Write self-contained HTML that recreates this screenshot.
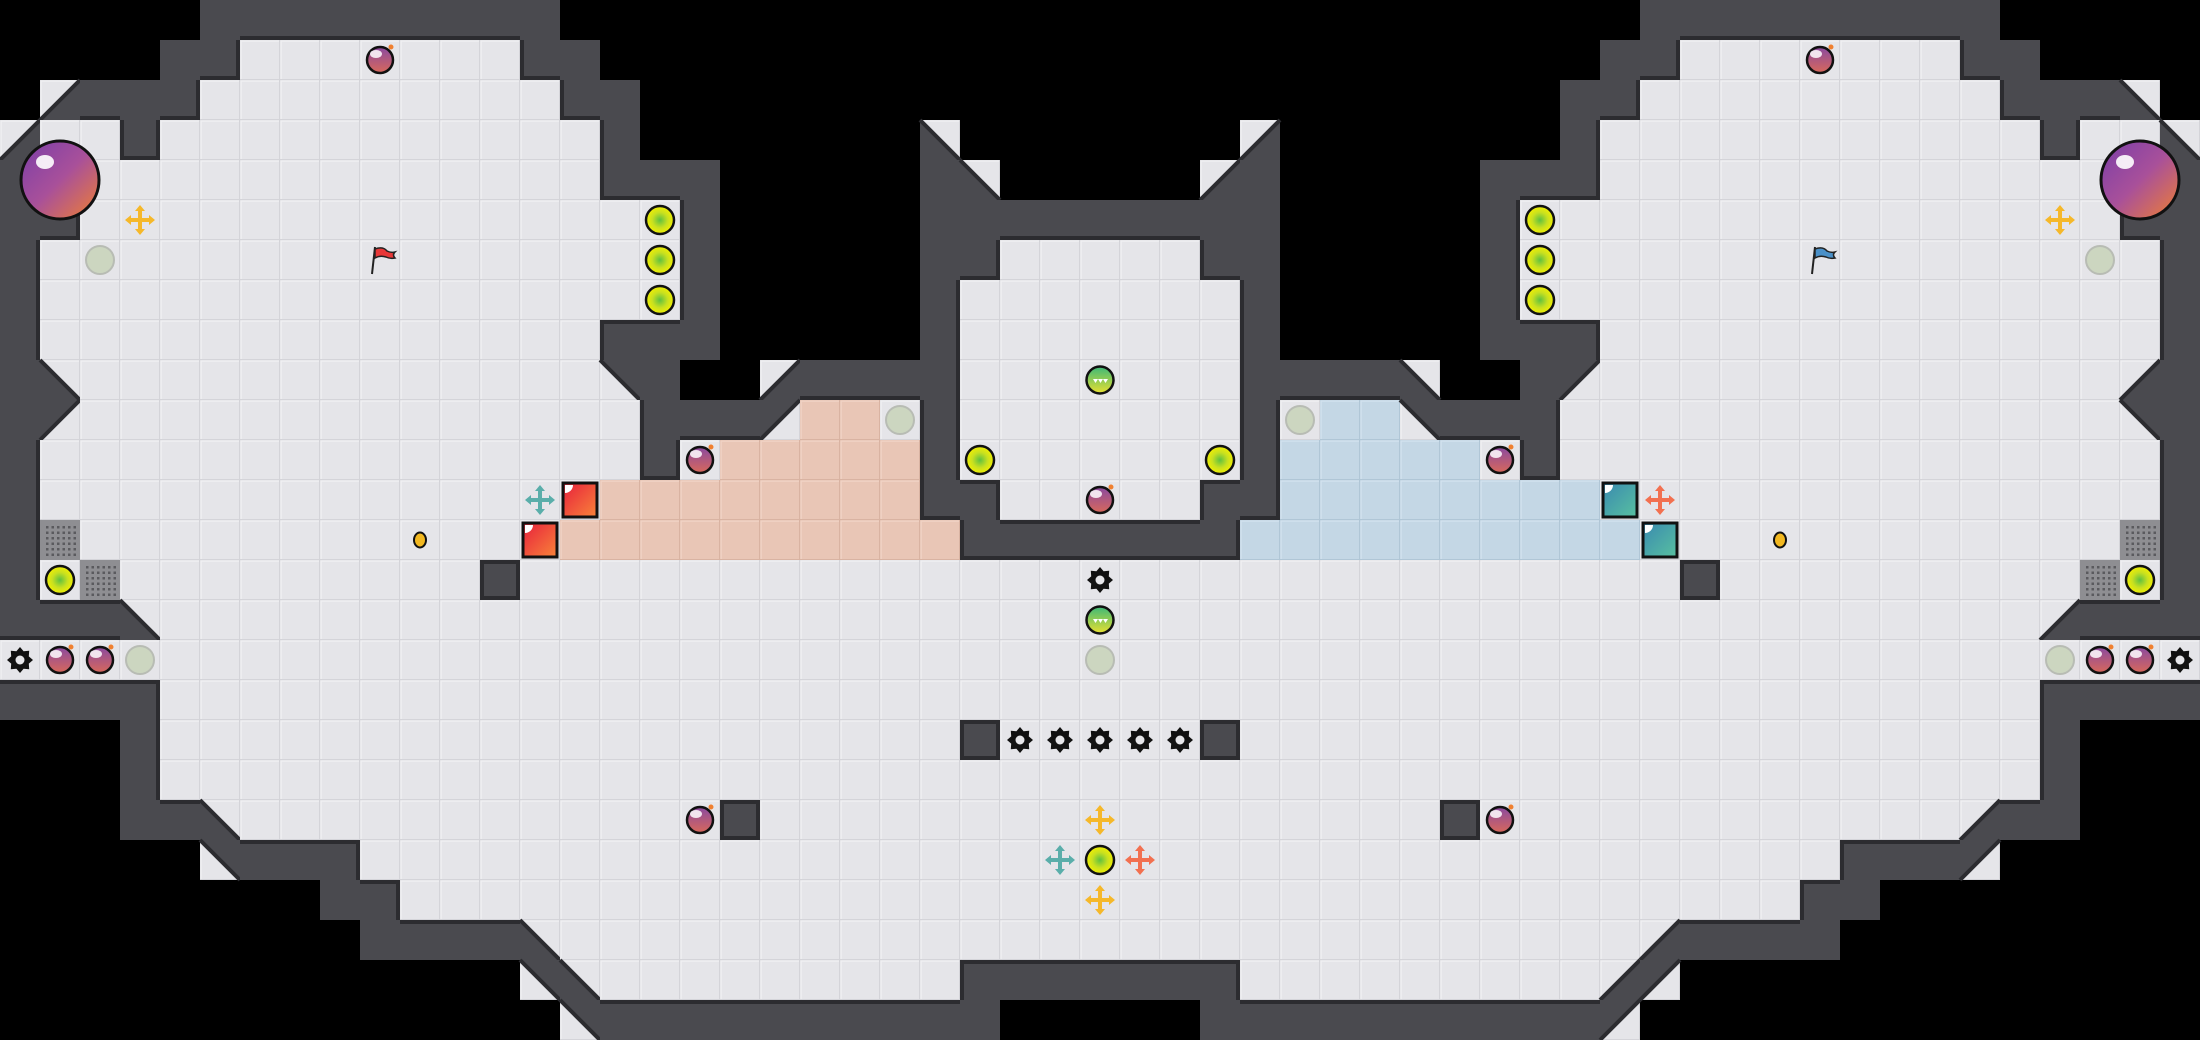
<!DOCTYPE html>
<html><head><meta charset="utf-8">
<style>html,body{margin:0;padding:0;background:#000;width:2200px;height:1040px;overflow:hidden}</style>
</head><body>
<svg id="s" width="2200" height="1040" xmlns="http://www.w3.org/2000/svg">
<defs>
<radialGradient id="gPill" cx="0.5" cy="0.5" r="0.5"><stop offset="0" stop-color="#5fc040"/><stop offset="0.55" stop-color="#c8e020"/><stop offset="1" stop-color="#f2f000"/></radialGradient>
<linearGradient id="gBomb" x1="0" y1="0" x2="0" y2="1"><stop offset="0" stop-color="#8b4aa0"/><stop offset="1" stop-color="#d8685a"/></linearGradient>
<linearGradient id="gBig" x1="0" y1="0" x2="1" y2="1"><stop offset="0" stop-color="#7a3ea8"/><stop offset="0.5" stop-color="#a8509a"/><stop offset="1" stop-color="#f08030"/></linearGradient>
<linearGradient id="gGreen" x1="0" y1="0" x2="0" y2="1"><stop offset="0" stop-color="#3cb878"/><stop offset="1" stop-color="#e8e030"/></linearGradient>
<linearGradient id="gRed" x1="0" y1="0" x2="1" y2="1"><stop offset="0" stop-color="#e8203c"/><stop offset="1" stop-color="#f8843a"/></linearGradient>
<linearGradient id="gTeal" x1="0" y1="0" x2="1" y2="1"><stop offset="0" stop-color="#3a8ab0"/><stop offset="1" stop-color="#58c0a0"/></linearGradient>
</defs>
<g id="tiles"></g><g id="items"></g>
</svg>
<script>
var L=[
".....#########..............",
"....##fffffff##.............",
".1###fffffffff##............",
"1ff#fffffffffff#.......2....",
"#ffffffffffffff###.....#2...",
"##fffffffffffffff#.....#####",
"#ffffffffffffffff#.....##fff",
"#ffffffffffffffff#.....#ffff",
"#ffffffffffffff###.....#ffff",
"#2fffffffffffff4#..1####ffff",
"#3ffffffffffffff###3rrf#ffff",
"#fffffffffffffff#frrrrr#ffff",
"#ffffffffffffffrrrrrrrr##fff",
"#fffffffffffffrrrrrrrrrr####",
"#fffffffffff#fffffffffffffff",
"###2ffffffffffffffffffffffff",
"ffffffffffffffffffffffffffff",
"####ffffffffffffffffffffffff",
"...#ffffffffffffffffffff#fff",
"...#ffffffffffffffffffffffff",
"...##2ffffffffffff#fffffffff",
".....4###fffffffffffffffffff",
"........##ffffffffffffffffff",
".........####2ffffffffffffff",
".............42fffffffff####",
"..............4##########..."];
var M={'1':'2','2':'1','3':'4','4':'3','r':'b'};
var G=[];
for(var r=0;r<26;r++){var row=[];for(var c=0;c<55;c++){var ch=c<=27?L[r][c]:L[r][54-c];if(c>27&&M[ch])ch=M[ch];row.push(ch);}G.push(row);}
var T=40,out=[];
function isW(r,c){if(r<0||r>25||c<0||c>54)return false;return G[r][c]=='#';}
function isF(r,c){if(r<0||r>25||c<0||c>54)return false;var ch=G[r][c];return ch!='#'&&ch!='.';}
var FC={f:['#e5e5e9','#d4d4d9','#f0f0f3'],r:['#e9c6b6','#d9b3a2','#f1d3c5'],b:['#c4d7e5','#b0c6d6','#d2e2ee']};
for(var r=0;r<26;r++)for(var c=0;c<55;c++){
 var ch=G[r][c],x=c*T,y=r*T;
 if(ch=='.')continue;
 if(ch=='#'){
  out.push('<rect x="'+x+'" y="'+y+'" width="40" height="40" fill="#4a4a4f"/>');
  continue;}
 var fc=FC[ch]||FC.f;
 out.push('<rect x="'+x+'" y="'+y+'" width="40" height="40" fill="'+fc[1]+'"/><rect x="'+(x+1)+'" y="'+(y+1)+'" width="38" height="38" fill="'+fc[0]+'"/><path d="M'+(x+1)+' '+(y+39)+'V'+(y+1)+'H'+(x+39)+'" stroke="'+fc[2]+'" stroke-width="1.5" fill="none"/>');
 var p=null,e=null;
 if(ch=='1'){p=[[x+T,y],[x+T,y+T],[x,y+T]];e=[[x,y+T],[x+T,y]];}
 if(ch=='2'){p=[[x,y],[x+T,y+T],[x,y+T]];e=[[x,y],[x+T,y+T]];}
 if(ch=='3'){p=[[x,y],[x+T,y],[x,y+T]];e=[[x,y+T],[x+T,y]];}
 if(ch=='4'){p=[[x,y],[x+T,y],[x+T,y+T]];e=[[x,y],[x+T,y+T]];}
 if(p){out.push('<polygon points="'+p.join(' ')+'" fill="#4a4a4f"/><line x1="'+e[0][0]+'" y1="'+e[0][1]+'" x2="'+e[1][0]+'" y2="'+e[1][1]+'" stroke="#2c2c30" stroke-width="4"/>');}
}
// dark wall edges next to floor
for(var r=0;r<26;r++)for(var c=0;c<55;c++){
 if(G[r][c]!='#')continue;var x=c*T,y=r*T;
 if(isF(r-1,c)&&'1234'.indexOf(G[r-1][c])<0)out.push('<rect x="'+x+'" y="'+y+'" width="40" height="4" fill="#2c2c30"/>');
 if(isF(r+1,c)&&'1234'.indexOf(G[r+1][c])<0)out.push('<rect x="'+x+'" y="'+(y+36)+'" width="40" height="4" fill="#2c2c30"/>');
 if(isF(r,c-1)&&'1234'.indexOf(G[r][c-1])<0)out.push('<rect x="'+x+'" y="'+y+'" width="4" height="40" fill="#2c2c30"/>');
 if(isF(r,c+1)&&'1234'.indexOf(G[r][c+1])<0)out.push('<rect x="'+(x+36)+'" y="'+y+'" width="4" height="40" fill="#2c2c30"/>');
}
document.getElementById('tiles').innerHTML=out.join('');
var I=[];
function cc(c){return c*T+20}
function bomb(c,r){var x=cc(c),y=cc(r);I.push('<circle cx="'+x+'" cy="'+y+'" r="13" fill="url(#gBomb)" stroke="#111" stroke-width="2.5"/><ellipse cx="'+(x-4)+'" cy="'+(y-6)+'" rx="6" ry="4" fill="#fff" opacity="0.85"/><circle cx="'+(x+11)+'" cy="'+(y-13)+'" r="2.5" fill="#f08030"/>');}
function pill(c,r){var x=cc(c),y=cc(r);I.push('<circle cx="'+x+'" cy="'+y+'" r="14" fill="url(#gPill)" stroke="#111" stroke-width="2.5"/>');}
function grey(c,r){var x=cc(c),y=cc(r);I.push('<circle cx="'+x+'" cy="'+y+'" r="14" fill="#ccd6c0" stroke="#b8bcb4" stroke-width="2"/>');}
function gball(c,r){var x=cc(c),y=cc(r);I.push('<circle cx="'+x+'" cy="'+y+'" r="13.5" fill="url(#gGreen)" stroke="#111" stroke-width="2.5"/><path d="M'+(x-7)+' '+(y-1)+'l2.5 4l2.5 -4zM'+(x-2)+' '+(y-1)+'l2.5 4l2.5 -4zM'+(x+3)+' '+(y-1)+'l2.5 4l2.5 -4z" fill="#fff"/>');}
function cross(c,r,col){var x=cc(c),y=cc(r);I.push('<g fill="'+col+'" stroke="'+col+'"><rect x="'+(x-2)+'" y="'+(y-11)+'" width="4" height="22" stroke="none"/><rect x="'+(x-11)+'" y="'+(y-2)+'" width="22" height="4" stroke="none"/><path d="M'+x+' '+(y-15)+'l-5 6h10zM'+x+' '+(y+15)+'l-5 -6h10zM'+(x-15)+' '+y+'l6 -5v10zM'+(x+15)+' '+y+'l-6 -5v10z" stroke="none"/></g>');}
function spike(c,r){var x=cc(c),y=cc(r),d='';for(var i=0;i<16;i++){var a=i*Math.PI/8,R=(i%2?9.5:13);d+=(i?'L':'M')+(x+R*Math.cos(a)).toFixed(1)+' '+(y+R*Math.sin(a)).toFixed(1);}I.push('<path d="'+d+'Z" fill="#111"/><circle cx="'+x+'" cy="'+y+'" r="4.5" fill="#e5e5e9"/>');}
function box(c,r,g){var x=c*T+3,y=r*T+3;I.push('<rect x="'+x+'" y="'+y+'" width="34" height="34" fill="url(#'+g+')" stroke="#111" stroke-width="3"/><path d="M'+(x+2)+' '+(y+2)+'h8a8 8 0 0 1 -8 8z" fill="#fff"/>');}
function grate(c,r){var x=c*T,y=r*T,s='<rect x="'+x+'" y="'+y+'" width="40" height="40" fill="#8e8e92"/>';for(var i=0;i<6;i++)for(var j=0;j<6;j++)s+='<rect x="'+(x+6+i*5.5)+'" y="'+(y+6+j*5.5)+'" width="2.5" height="2.5" fill="#5a5a5e"/>';I.push(s);}
function flag(c,r,col){var x=cc(c),y=cc(r);I.push('<line x1="'+(x-8)+'" y1="'+(y+14)+'" x2="'+(x-5)+'" y2="'+(y-13)+'" stroke="#222" stroke-width="2"/><path d="M'+(x-5)+' '+(y-11)+'q8 -3 12 2q4 2 8 1q-3 3 0 6q-5 1 -9 -1q-6 -2 -11 1z" fill="'+col+'" stroke="#222" stroke-width="1.5"/>');}
function dot(c,r){var x=cc(c),y=cc(r);I.push('<ellipse cx="'+x+'" cy="'+y+'" rx="6" ry="7.5" fill="#f2b820" stroke="#111" stroke-width="2"/>');}
function big(x,y){I.push('<circle cx="'+x+'" cy="'+y+'" r="39" fill="url(#gBig)" stroke="#111" stroke-width="3"/><ellipse cx="'+(x-15)+'" cy="'+(y-18)+'" rx="9" ry="7" fill="#fff" opacity="0.9"/>');}
function both(f,c,r){f(c,r);if(c!=27)f(54-c,r);}
[[9,1],[17,11],[27,12],[1,16],[2,16],[17,20]].forEach(function(p){both(bomb,p[0],p[1]);});
[[16,5],[16,6],[16,7],[24,11],[1,14],[27,21]].forEach(function(p){both(pill,p[0],p[1]);});
[[2,6],[22,10],[3,16],[27,16]].forEach(function(p){both(grey,p[0],p[1]);});
gball(27,9);gball(27,15);
[[0,16],[27,14],[25,18],[26,18],[27,18]].forEach(function(p){both(spike,p[0],p[1]);});
both(grate,1,13);both(grate,2,14);both(dot,10,13);
both(function(c,r){cross(c,r,'#f5b82a');},3,5);
cross(27,20,'#f5b82a');cross(27,22,'#f5b82a');
cross(26,21,'#5aaeaa');cross(28,21,'#f27050');
cross(13,12,'#5aaeaa');cross(41,12,'#f27050');
box(14,12,'gRed');box(13,13,'gRed');box(40,12,'gTeal');box(41,13,'gTeal');
flag(9,6,'#e83838');flag(45,6,'#4a90c8');
big(60,180);big(2140,180);
document.getElementById('items').innerHTML=I.join('');
</script>
</body></html>
